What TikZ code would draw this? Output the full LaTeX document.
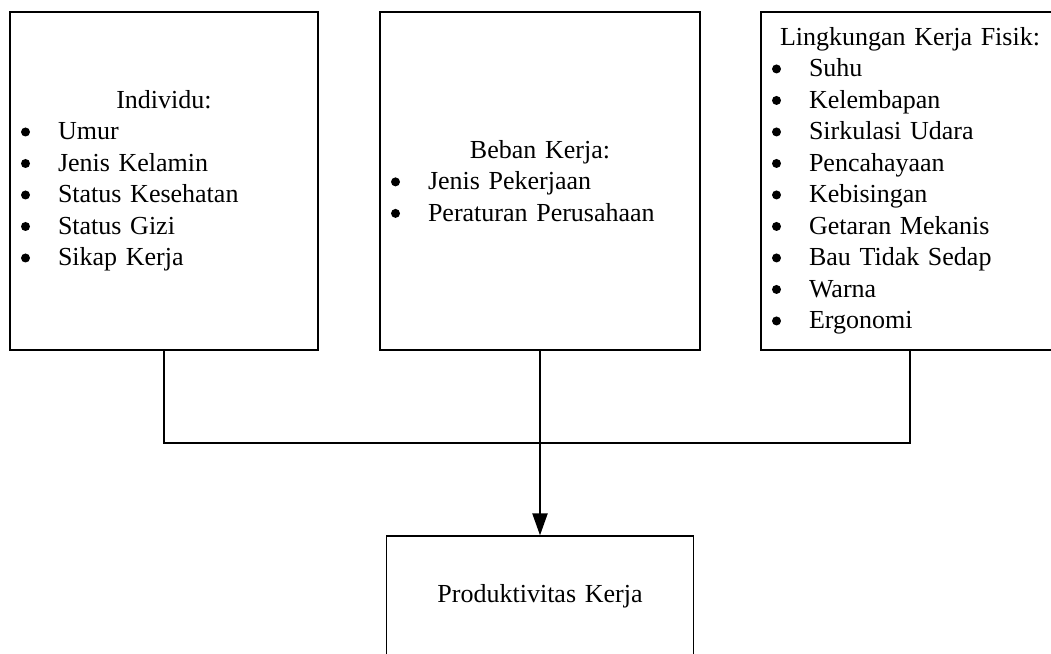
\documentclass[tikz,border=0pt]{standalone}
\usepackage{fontspec}
\setmainfont{Liberation Serif}
\usetikzlibrary{arrows.meta}
\tikzstyle{block} = [rectangle, draw, line width=1.2pt, inner sep=0pt,
    align=center, minimum height=338pt, font=\fontsize{26}{31.5}\selectfont]
\tikzstyle{line} = [draw, line width=2.2pt]
\newcommand{\dotmark}{\tikz[baseline=0pt]\path[fill=black, draw=none] (0,8pt) circle (4.5pt);}
\newcommand{\itm}[1]{\makebox[\hsize][l]{\makebox[48pt][l]{\hspace*{11pt}\dotmark}#1}}

\begin{document}
\begin{tikzpicture}[x=1pt, y=1pt, node distance=376pt]
  \useasboundingbox (0,0) rectangle (1051,653);
   % Place nodes
    \node [block, text width=308pt] (ind) at (164,472) {Individu:\\ \itm{Umur}\\ \itm{Jenis Kelamin}\\
      \itm{Status Kesehatan}\\ \itm{Status Gizi}\\ \itm{Sikap Kerja}};
    \node [block, text width=320pt, right of=ind] (beban) {Beban Kerja:\\ \itm{Jenis Pekerjaan}\\
      \itm{Peraturan Perusahaan}};
    \node [block, text width=298pt, right of=beban, node distance=370pt] (fisik) {Lingkungan Kerja Fisik:\\
      \itm{Suhu}\\ \itm{Kelembapan}\\ \itm{Sirkulasi Udara}\\ \itm{Pencahayaan}\\ \itm{Kebisingan}\\
      \itm{Getaran Mekanis}\\ \itm{Bau Tidak Sedap}\\ \itm{Warna}\\ \itm{Ergonomi}};
    \node [block, text width=307pt, minimum height=120pt, below of=beban, node distance=415pt] (prod) {Produktivitas Kerja};
    \coordinate [below of=beban, node distance=262pt] (join);
   % Draw edges
    \path [line] (ind.south) |- (join) -| (fisik.south);
    \path [line, -{Triangle[length=22pt,width=15pt]}] (beban.south) -- (prod.north);
\end{tikzpicture}
\end{document}
